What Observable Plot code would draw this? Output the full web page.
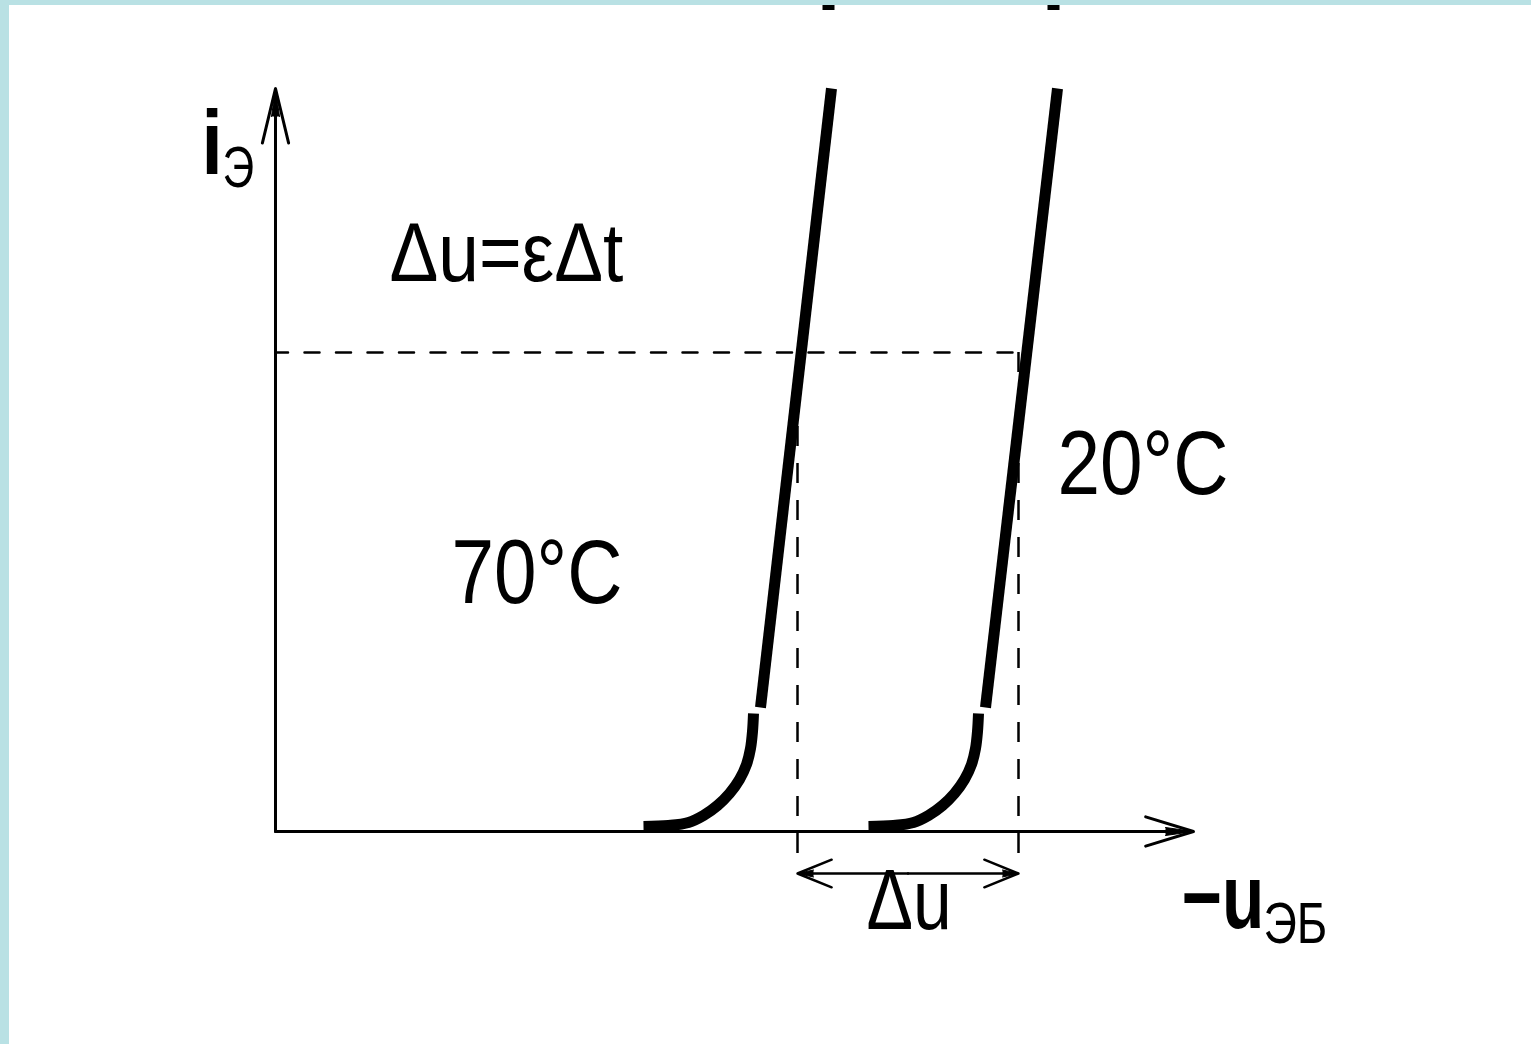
<!DOCTYPE html>
<html><head><meta charset="utf-8">
<script src="https://cdn.jsdelivr.net/npm/d3@7"></script>
<script src="https://cdn.jsdelivr.net/npm/@observablehq/plot@0.6"></script>
<style>
html,body{margin:0;padding:0;}
body{background:#b9e1e4;padding:5px 0 0 9px;width:1522px;height:1039px;overflow:hidden;}
#chart{background:#fff;width:1522px;height:1039px;}
</style></head><body><div id="chart"></div>
<script>
// ---- data (abstract units: u = -U_EB, i = I_E) ----
const knee70U = [36.8, 39.3, 41.3, 42.8, 44.2, 45.4, 46.4, 47.1, 47.5, 47.7, 47.8];
const knee70I = [0.5, 0.6, 0.9, 1.6, 2.6, 3.8, 5.2, 6.7, 8.3, 10.0, 11.8];
const line70U = [48.5, 55.6];
const line70I = [12.4, 74.3];
const knee20U = [59.3, 61.8, 63.8, 65.3, 66.7, 67.9, 68.9, 69.6, 70.0, 70.2, 70.3];
const knee20I = [0.5, 0.6, 0.9, 1.6, 2.6, 3.8, 5.2, 6.7, 8.3, 10.0, 11.8];
const line20U = [71.0, 78.2];
const line20I = [12.4, 74.3];
const stubU = [55.3, 77.8];          // cut-off curve ends at the top edge
const stubI = [82.1, 82.6];
const levelI = 47.9;                 // dashed operating level
const levelU = [0, 74.3];
const shiftU = [52.2, 74.3];         // the two voltages (Δu between them)
const shiftBottomI = -2.2;
const deltaArrowI = -4.2;
const axisEndU = 91.8;
const axisEndI = 74.3;
const labelText = ["i", "Э", "Δu=εΔt", "70°C", "20°C", "Δu", "−u", "ЭБ"];
const labelU    = [-7.4, -5.3, 11.4, 17.6, 78.2, 59.1, 90.6, 98.8];
const labelI    = [65.8, 64.5, 55.1, 22.9, 33.8, -9.7, -9.6, -11.1];

// ---- styles (kept apart from the data) ----
const labelStyle = {
  "i":      {size: 90, bold: true,  stretch: 0.85},
  "Э":      {size: 58, bold: false, stretch: 0.76},
  "Δu=εΔt": {size: 84, bold: false, stretch: 0.87},
  "70°C":   {size: 90, bold: false, stretch: 0.85},
  "20°C":   {size: 90, bold: false, stretch: 0.85},
  "Δu":     {size: 86, bold: false, stretch: 0.81},
  "−u":     {size: 90, bold: true,  stretch: 0.77},
  "ЭБ":     {size: 58, bold: false, stretch: 0.8}
};
const font = "'Liberation Sans',Arial,sans-serif";

// ---- tables built from the arrays ----
const pts = (U, I) => U.map((u, k) => ({u, i: I[k]}));
const labels = labelText.map((t, k) => ({text: t, u: labelU[k], i: labelI[k]}));
const mid = (shiftU[0] + shiftU[1]) / 2;
const heavy = {stroke: "black", strokeWidth: 11, strokeLinecap: "butt", strokeLinejoin: "round"};

const plot = Plot.plot({
  width: 1522, height: 1039,
  x: {type: "linear", domain: [0, 100], range: [266, 1266], axis: null},
  y: {type: "linear", domain: [0, 100], range: [826, -174], axis: null},
  style: {background: "white", color: "black"},
  marks: [
    // dashed construction lines
    Plot.line(pts(levelU, [levelI, levelI]), {x: "u", y: "i", stroke: "black", strokeWidth: 2.5, strokeDasharray: "15,16.5", strokeDashoffset: 2.5}),
    Plot.ruleX(shiftU, {x: d => d, y1: levelI, y2: shiftBottomI, stroke: "black", strokeWidth: 2.5, strokeDasharray: "20,17"}),
    // axes with arrows
    Plot.arrow([{u1: 0, i1: 0, u2: axisEndU, i2: 0}], {x1: "u1", y1: "i1", x2: "u2", y2: "i2", stroke: "black", strokeWidth: 3, headLength: 25, headAngle: 34}),
    Plot.arrow([{u1: 0, i1: 0, u2: 0, i2: axisEndI}], {x1: "u1", y1: "i1", x2: "u2", y2: "i2", stroke: "black", strokeWidth: 3, headLength: 28, headAngle: 27}),
    Plot.vector([{u: axisEndU, i: 0, r: 90}, {u: 0, i: axisEndI, r: 0}], {x: "u", y: "i", rotate: "r", length: 28, anchor: "end", shape: "spike", r: 4, fill: "black", stroke: "black", strokeWidth: 1}),
    // Δu double arrow
    Plot.arrow([{a: mid, b: shiftU[0]}, {a: mid, b: shiftU[1]}], {x1: "a", x2: "b", y1: () => deltaArrowI, y2: () => deltaArrowI, stroke: "black", strokeWidth: 2.5, headLength: 24, headAngle: 44}),
    Plot.vector([{u: shiftU[0], r: -90}, {u: shiftU[1], r: 90}], {x: "u", y: () => deltaArrowI, rotate: "r", length: 16, anchor: "end", shape: "spike", r: 3.5, fill: "black", stroke: "black", strokeWidth: 1}),
    // characteristics
    Plot.line(pts(knee70U, knee70I), {x: "u", y: "i", curve: "catmull-rom", ...heavy}),
    Plot.line(pts(line70U, line70I), {x: "u", y: "i", ...heavy}),
    Plot.line(pts(knee20U, knee20I), {x: "u", y: "i", curve: "catmull-rom", ...heavy}),
    Plot.line(pts(line20U, line20I), {x: "u", y: "i", ...heavy}),
    Plot.ruleX(stubU, {x: d => d, y1: stubI[0], y2: stubI[1], stroke: "black", strokeWidth: 12}),
    // labels
    ...labels.map(d => Plot.text([d], {
      x: "u", y: "i", text: "text",
      fontSize: labelStyle[d.text].size,
      fontWeight: labelStyle[d.text].bold ? "bold" : "normal",
      fontFamily: font, textAnchor: "start", lineAnchor: "bottom", fill: "black"
    }))
  ]
});
// condense the glyphs horizontally (the original lettering is narrow)
d3.select(plot).selectAll("g[aria-label='text'] text").each(function () {
  const s = labelStyle[this.textContent];
  if (!s) return;
  const t = this.getAttribute("transform");
  if (t) this.setAttribute("transform", `${t} scale(${s.stretch},1)`);
});
document.getElementById("chart").append(plot);
</script>
</body></html>
